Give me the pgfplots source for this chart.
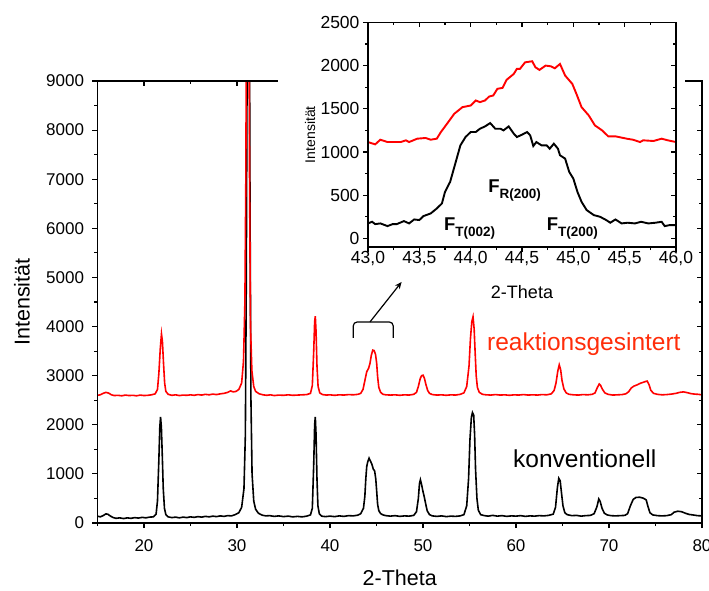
\documentclass[border=0pt]{standalone}
\usepackage{fontspec}
\setmainfont{Liberation Sans}
\usepackage{pgfplots}
\usepackage{pgfplotstable}
\pgfplotsset{compat=1.18}
\usetikzlibrary{arrows.meta}
\definecolor{labred}{RGB}{255,45,10}

\pgfplotstableread{
x y
15.0 140
15.3 125
15.6 150
15.9 185
16.1 180
16.4 140
16.7 110
17.0 95
17.4 105
17.8 90
18.2 105
18.6 95
19.0 110
19.4 100
19.8 115
20.2 105
20.6 120
21.0 125
21.3 180
21.45 450
21.6 1300
21.7 1950
21.78 2160
21.87 1950
21.97 1350
22.07 700
22.2 300
22.35 170
22.6 125
23.0 110
23.4 120
23.8 105
24.2 120
24.6 110
25.0 125
25.4 115
25.8 130
26.2 120
26.6 135
27.0 125
27.4 140
27.8 130
28.2 145
28.6 135
29.0 150
29.4 145
29.8 170
30.2 210
30.5 320
30.75 700
30.9 1800
31.0 5000
31.1 10000
31.2 14000
31.3 12500
31.4 6500
31.5 2500
31.62 1000
31.8 450
32.0 280
32.3 200
32.7 160
33.1 145
33.5 150
34.0 135
34.5 145
35.0 130
35.5 140
36.0 125
36.5 135
37.0 125
37.5 140
37.9 165
38.1 300
38.25 1200
38.35 2000
38.42 2160
38.5 1800
38.6 900
38.7 350
38.85 190
39.1 140
39.5 130
40.0 140
40.5 130
41.0 145
41.5 135
42.0 150
42.5 145
43.0 160
43.3 190
43.6 300
43.75 550
43.85 900
43.95 1150
44.05 1240
44.2 1320
44.35 1260
44.5 1200
44.65 1100
44.8 1060
44.92 900
45.02 650
45.12 380
45.25 250
45.45 190
45.7 165
46.0 150
46.5 140
47.0 150
47.5 135
48.0 145
48.5 140
49.0 155
49.3 230
49.5 500
49.62 800
49.72 880
49.85 780
50.0 640
50.15 520
50.3 380
50.45 250
50.7 170
51.0 145
51.5 135
52.0 145
52.5 130
53.0 140
53.5 135
54.0 145
54.4 170
54.7 350
54.9 900
55.05 1700
55.2 2150
55.32 2250
55.45 2200
55.55 1800
55.65 1100
55.8 500
55.95 260
56.2 170
56.6 150
57.0 140
57.5 155
58.0 140
58.5 150
59.0 135
59.5 145
60.0 140
60.5 150
61.0 135
61.5 145
62.0 140
62.5 150
63.0 145
63.5 155
64.0 180
64.25 320
64.45 720
64.6 910
64.75 860
64.9 600
65.05 350
65.25 210
65.5 170
66.0 150
66.5 155
67.0 140
67.5 150
68.0 155
68.4 190
68.7 330
68.9 490
69.05 440
69.25 300
69.5 200
69.8 165
70.2 150
70.7 145
71.2 150
71.7 155
72.0 190
72.3 350
72.6 480
72.9 520
73.3 525
73.7 505
74.0 470
74.2 330
74.4 210
74.7 165
75.2 150
75.7 145
76.2 150
76.7 170
77.0 220
77.4 240
77.8 230
78.2 200
78.6 175
79.0 165
79.5 150
80.0 145
}\konv

\pgfplotstableread{
x y
15.0 2600
15.3 2610
15.6 2640
15.9 2660
16.2 2645
16.5 2610
16.8 2595
17.2 2600
17.6 2590
18.0 2605
18.4 2595
18.8 2600
19.2 2590
19.6 2605
20.0 2595
20.4 2600
20.8 2610
21.2 2630
21.45 2720
21.6 3050
21.75 3550
21.88 3850
21.98 3700
22.1 3250
22.22 2850
22.35 2680
22.6 2620
23.0 2600
23.4 2610
23.8 2595
24.2 2605
24.6 2600
25.0 2610
25.4 2600
25.8 2615
26.2 2605
26.6 2620
27.0 2610
27.4 2625
27.8 2615
28.2 2630
28.6 2640
29.0 2660
29.3 2690
29.6 2670
29.9 2680
30.2 2720
30.5 2850
30.7 3300
30.85 4500
30.95 7000
31.05 12000
31.15 16000
31.25 13000
31.35 7000
31.45 4000
31.6 3100
31.8 2780
32.0 2680
32.4 2630
32.8 2610
33.2 2600
33.6 2610
34.0 2595
34.5 2605
35.0 2600
35.5 2610
36.0 2600
36.5 2605
37.0 2610
37.5 2615
37.9 2640
38.1 2800
38.25 3500
38.35 4100
38.42 4210
38.5 3900
38.6 3200
38.72 2780
38.9 2650
39.2 2615
39.6 2605
40.0 2610
40.5 2600
41.0 2610
41.5 2605
42.0 2615
42.5 2610
43.0 2620
43.3 2640
43.55 2720
43.75 2900
43.95 3080
44.15 3150
44.3 3250
44.45 3420
44.6 3520
44.75 3510
44.9 3430
45.02 3250
45.12 2980
45.25 2760
45.45 2660
45.7 2620
46.0 2610
46.5 2605
47.0 2610
47.5 2600
48.0 2610
48.5 2605
49.0 2620
49.3 2660
49.5 2780
49.7 2940
49.85 3000
50.0 3010
50.15 2950
50.3 2830
50.5 2700
50.7 2640
51.0 2615
51.5 2605
52.0 2610
52.5 2600
53.0 2610
53.5 2605
54.0 2620
54.4 2650
54.7 2780
54.95 3200
55.1 3750
55.25 4100
55.38 4200
55.5 3950
55.6 3500
55.72 3000
55.85 2760
56.05 2660
56.4 2620
56.8 2610
57.3 2605
57.8 2615
58.3 2605
58.8 2610
59.3 2600
59.8 2610
60.3 2605
60.8 2615
61.3 2605
61.8 2610
62.3 2605
62.8 2615
63.3 2610
63.8 2630
64.1 2700
64.3 2850
64.5 3100
64.65 3220
64.8 3120
64.95 2900
65.15 2730
65.4 2650
65.7 2620
66.2 2610
66.7 2605
67.2 2615
67.7 2610
68.2 2620
68.5 2650
68.75 2760
68.95 2830
69.1 2800
69.3 2720
69.55 2650
69.9 2620
70.4 2605
70.9 2610
71.4 2615
71.8 2630
72.1 2670
72.4 2750
72.7 2790
73.0 2810
73.3 2840
73.6 2860
73.9 2880
74.1 2890
74.3 2820
74.5 2700
74.8 2640
75.2 2620
75.7 2610
76.2 2615
76.7 2625
77.2 2640
77.6 2660
78.0 2670
78.4 2655
78.8 2635
79.2 2625
79.6 2620
80.0 2610
}\reak

\pgfplotstableread{
x y
43.00 1115
43.07 1088
43.12 1142
43.19 1115
43.32 1115
43.37 1135
43.40 1115
43.48 1154
43.56 1162
43.61 1142
43.67 1154
43.71 1231
43.77 1327
43.84 1442
43.92 1519
44.00 1538
44.05 1596
44.09 1577
44.14 1596
44.18 1642
44.22 1654
44.26 1731
44.31 1742
44.35 1835
44.42 1904
44.45 1962
44.48 1962
44.53 2038
44.60 2050
44.63 1981
44.67 1950
44.73 2000
44.78 1992
44.82 1969
44.87 2019
44.92 1885
44.99 1788
45.03 1673
45.08 1519
45.15 1423
45.21 1308
45.28 1250
45.34 1181
45.41 1181
45.52 1154
45.58 1142
45.65 1115
45.68 1135
45.78 1127
45.86 1154
45.92 1135
46.00 1115
}\insred

\pgfplotstableread{
x y
43.00 173
43.04 192
43.07 165
43.12 173
43.19 142
43.24 165
43.28 165
43.35 200
43.40 173
43.45 219
43.50 212
43.54 258
43.61 288
43.67 346
43.72 404
43.75 538
43.80 654
43.85 865
43.90 1077
43.95 1173
44.00 1231
44.05 1231
44.09 1269
44.14 1296
44.19 1335
44.24 1269
44.29 1269
44.32 1250
44.37 1296
44.42 1212
44.45 1173
44.50 1200
44.55 1231
44.58 1192
44.61 1069
44.64 1115
44.69 1077
44.74 1077
44.77 1038
44.81 1096
44.85 1038
44.87 962
44.92 923
44.96 769
45.00 692
45.04 538
45.08 423
45.13 327
45.20 269
45.26 250
45.32 212
45.36 181
45.41 219
45.47 173
45.53 181
45.60 173
45.66 192
45.73 173
45.80 181
45.86 192
45.89 142
45.94 154
46.00 154
}\insblack

\begin{document}
\begin{tikzpicture}[x=1pt,y=1pt]
\useasboundingbox (-97.5pt,-67pt) rectangle (611.5pt,523pt);
\pgfplotsset{
  common/.style={
    scale only axis,
    axis line style={line width=1.2pt},
    every tick/.style={line width=1.1pt, black},
    major tick length=5pt, minor tick length=3pt,
    /pgf/number format/assume math mode=true,
    /pgf/number format/1000 sep={},
  }
}
\begin{axis}[common,
  at={(0pt,0pt)}, anchor=south west, width=604.5pt, height=442pt,
  xmin=15, xmax=80, ymin=0, ymax=9000,
  xtick={20,30,...,80}, minor xtick={15,25,...,75},
  ytick={0,1000,...,9000}, minor ytick={500,1500,...,8500},
  tick align=outside, xtick pos=lower, ytick pos=left,
  ticklabel style={font=\fontsize{17}{20}\selectfont},
  xticklabel style={yshift=-8pt},
  yticklabel style={xshift=-5pt},
  xlabel={2-Theta}, ylabel={Intensität},
  label style={font=\fontsize{21.5}{24}\selectfont},
  xlabel style={at={(axis description cs:0.5,0)}, anchor=center, yshift=-55pt},
  ylabel style={at={(axis description cs:0,0.5)}, anchor=center, yshift=75.5pt},
]
\addplot[black, line width=1.6pt] table {\konv};
\addplot[red, line width=1.6pt] table {\reak};
\draw[line width=1.2pt, rounded corners=4pt] (axis cs:42.5,3768) -- (axis cs:42.5,4094) -- (axis cs:46.8,4094) -- (axis cs:46.8,3768);
\draw[line width=1.2pt, -{Stealth[length=7pt,width=6pt]}] (axis cs:44.3,4094) -- (axis cs:47.7,4908);
\node[anchor=base west, inner sep=0, text=labred, font=\fontsize{24.5}{28}\selectfont] at (axis cs:56.88,3503) {reaktionsgesintert};
\node[anchor=base west, inner sep=0, font=\fontsize{24.5}{28}\selectfont] at (axis cs:59.68,1140) {konventionell};
\end{axis}
\begin{axis}[common,
  at={(0pt,0pt)}, anchor=south west, width=604.5pt, height=442pt,
  xmin=15, xmax=80, ymin=0, ymax=9000,
  xtick={20,30,...,80}, minor xtick={15,25,...,75},
  ytick={0,1000,...,9000}, minor ytick={500,1500,...,8500},
  tick align=inside, xtick pos=upper, ytick pos=right,
  xticklabels={}, yticklabels={},
]
\end{axis}
\fill[white] (180.5pt,246pt) rectangle (587.5pt,523pt);
\begin{axis}[common,
  at={(270.5pt,276pt)}, anchor=south west, width=308pt, height=224.6pt,
  xmin=43, xmax=46, ymin=-100, ymax=2500,
  xtick={43,43.5,44,44.5,45,45.5,46},
  minor xtick={43.25,43.75,44.25,44.75,45.25,45.75},
  ytick={0,500,...,2500}, minor ytick={250,750,...,2250},
  tick align=outside, xtick pos=lower, ytick pos=left,
  ticklabel style={font=\fontsize{17.5}{20}\selectfont},
  xticklabel style={yshift=4pt, /pgf/number format/.cd, fixed, fixed zerofill, precision=1, use comma},
  xlabel={2-Theta}, ylabel={Intensität},
  xlabel style={font=\fontsize{18}{20}\selectfont, at={(axis description cs:0.5,0)}, anchor=center, yshift=-45pt},
  ylabel style={font=\fontsize{14}{16}\selectfont, at={(axis description cs:0,0.5)}, anchor=center, yshift=58pt},
]
\addplot[red, line width=1.9pt] table {\insred};
\addplot[black, line width=1.9pt] table {\insblack};
\node[anchor=base west, inner sep=0] at (axis cs:44.17,532) {\fontsize{18.5}{20}\selectfont\bfseries F\raisebox{-6pt}{\fontsize{13.5}{15}\selectfont R(200)}};
\node[anchor=base west, inner sep=0] at (axis cs:43.74,93) {\fontsize{18.5}{20}\selectfont\bfseries F\raisebox{-6pt}{\fontsize{13.5}{15}\selectfont T(002)}};
\node[anchor=base west, inner sep=0] at (axis cs:44.74,93) {\fontsize{18.5}{20}\selectfont\bfseries F\raisebox{-6pt}{\fontsize{13.5}{15}\selectfont T(200)}};
\end{axis}
\begin{axis}[common,
  at={(270.5pt,276pt)}, anchor=south west, width=308pt, height=224.6pt,
  xmin=43, xmax=46, ymin=-100, ymax=2500,
  xtick={43,43.5,44,44.5,45,45.5,46},
  minor xtick={43.25,43.75,44.25,44.75,45.25,45.75},
  ytick={0,500,...,2500}, minor ytick={250,750,...,2250},
  tick align=inside, xtick pos=upper, ytick pos=right,
  xticklabels={}, yticklabels={},
]
\end{axis}
\end{tikzpicture}
\end{document}
